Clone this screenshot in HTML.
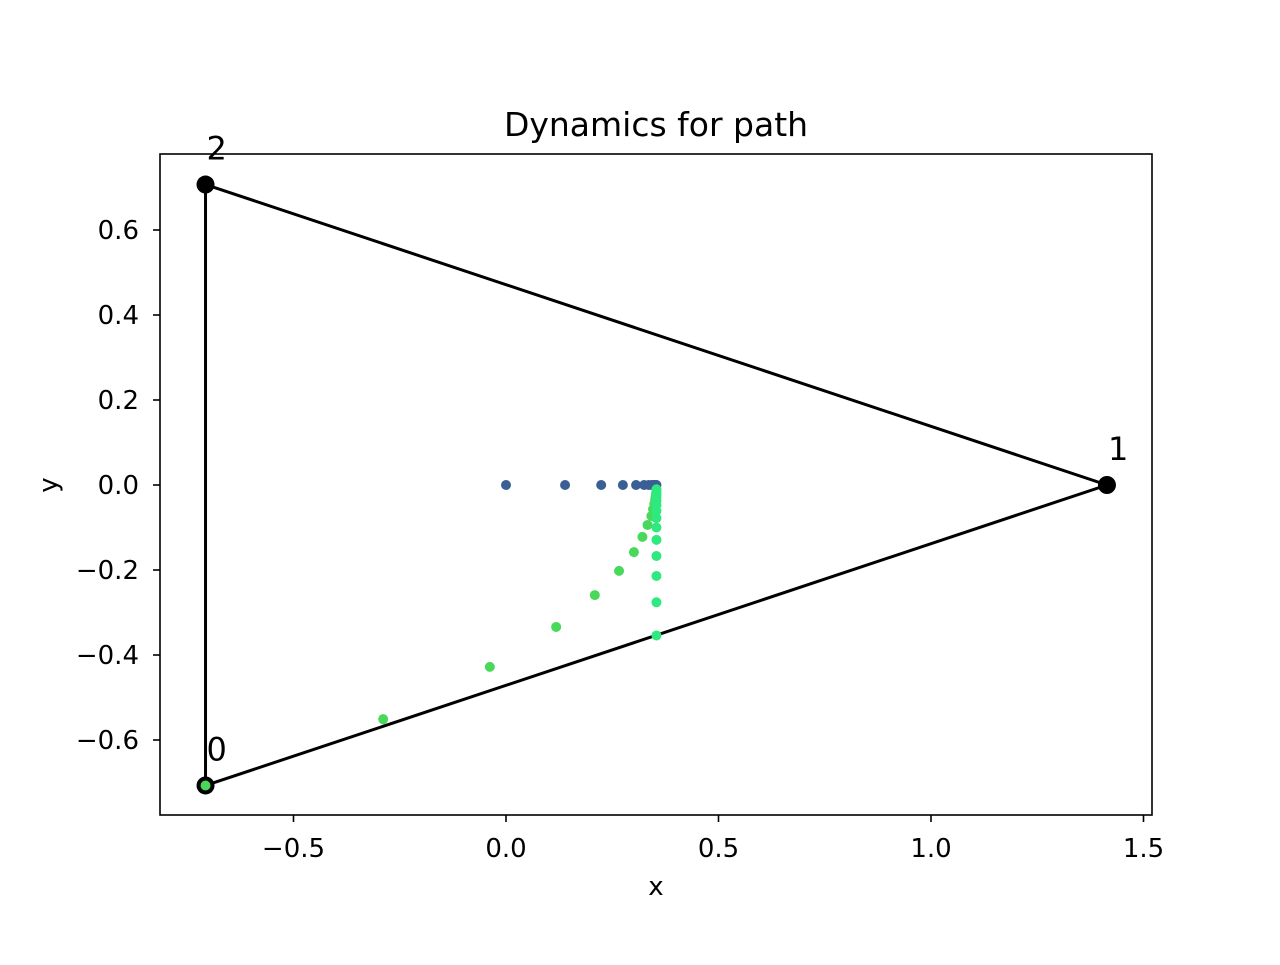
<!DOCTYPE html>
<html><head><meta charset="utf-8"><style>body{margin:0;background:#fff}svg text{font-family:"DejaVu Sans","Liberation Sans",sans-serif}</style></head>
<body>
<svg id="chart" width="1280" height="960" xmlns="http://www.w3.org/2000/svg">
<rect width="1280" height="960" fill="#fff"/>
<text x="656" y="136" text-anchor="middle" font-size="33">Dynamics for path</text>
<g id="plot"></g>
<rect x="160" y="154" width="992" height="661" fill="none" stroke="#000" stroke-width="1.6"/>
<text x="656" y="895" text-anchor="middle" font-size="26">x</text>
<text x="0" y="0" transform="translate(57,485) rotate(-90)" text-anchor="middle" font-size="26">y</text>
</svg>
<script>
const xTicks=[-0.5,0,0.5,1.0,1.5];
const xTickLabels=["−0.5","0.0","0.5","1.0","1.5"];
const yTicks=[-0.6,-0.4,-0.2,0,0.2,0.4,0.6];
const yTickLabels=["−0.6","−0.4","−0.2","0.0","0.2","0.4","0.6"];
const nodeX=[-0.707,1.414,-0.707];
const nodeY=[-0.707,0,0.707];
const nodeLabels=["0","1","2"];
const blueX=[0,0.139,0.224,0.275,0.306,0.325,0.336,0.343,0.347,0.35,0.352,0.353,0.354];
const blueY=[0,0,0,0,0,0,0,0,0,0,0,0,0];
const green1X=[-0.707,-0.289,-0.038,0.118,0.209,0.266,0.301,0.321,0.333,0.342,0.346,0.349,0.351,0.352,0.353];
const green1Y=[-0.707,-0.551,-0.428,-0.334,-0.259,-0.202,-0.158,-0.122,-0.094,-0.073,-0.057,-0.044,-0.034,-0.027,-0.02];
const green2X=[0.354,0.354,0.354,0.354,0.354,0.354,0.354,0.354,0.354,0.354,0.354,0.354,0.354,0.354,0.354];
const green2Y=[-0.354,-0.276,-0.214,-0.167,-0.129,-0.1,-0.078,-0.061,-0.047,-0.037,-0.029,-0.022,-0.017,-0.013,-0.01];
const sx=v=>506+425*v, sy=v=>485-425*v;
const NS="http://www.w3.org/2000/svg";
const svg=document.getElementById('chart'), g=document.getElementById('plot');
function mk(t,a,p){const e=document.createElementNS(NS,t);for(const k in a)e.setAttribute(k,a[k]);(p||g).appendChild(e);return e;}
xTicks.forEach((v,i)=>{
 const l=mk('line',{x1:sx(v),x2:sx(v),y1:815,y2:822,stroke:'#000','stroke-width':1.6},svg);
 
 
 const t=mk('text',{x:sx(v),y:857,'text-anchor':'middle','font-size':26},svg);t.textContent=xTickLabels[i];
 
 
});
yTicks.forEach((v,i)=>{
 const l=mk('line',{x1:153,x2:160,y1:sy(v),y2:sy(v),stroke:'#000','stroke-width':1.6},svg);
 
 
 const t=mk('text',{x:139,y:sy(v)+9,'text-anchor':'end','font-size':26},svg);t.textContent=yTickLabels[i];
 
 
});
let pts=nodeX.map((x,i)=>sx(x)+','+sy(nodeY[i])).join(' ');
const tri=mk('polygon',{points:pts,fill:'none',stroke:'#000','stroke-width':3});


nodeX.forEach((x,i)=>{
 const c=mk('circle',{cx:sx(x),cy:sy(nodeY[i]),r:9,fill:'#000'});
 
 
 const t=mk('text',{x:sx(x)+1,y:sy(nodeY[i])-25,'font-size':32});t.textContent=nodeLabels[i];
 
 
});
function series(X,Y,col,name){X.forEach((x,i)=>{const c=mk('circle',{cx:sx(x),cy:sy(Y[i]),r:5,fill:col});
 
 });}
series(blueX,blueY,'#3a5f94','blue-point');
series(green1X,green1Y,'#48d95a','green-point');
series(green2X,green2Y,'#2eea7e','teal-point');
</script>
</body></html>
